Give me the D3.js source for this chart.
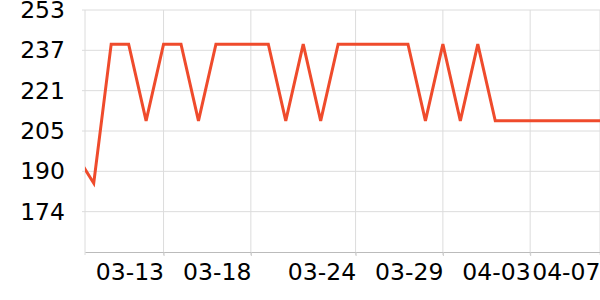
<!DOCTYPE html>
<html lang="en">

<head>
    <meta charset="UTF-8">
    <title>line</title>
    <script src="https://cdn.jsdelivr.net/npm/d3@7/dist/d3.min.js"></script>
    <style>
        body { margin: 0; background: #fff; }
        text { font-family: "DejaVu Sans", sans-serif; }
    </style>
</head>

<body>
    <svg width="600" height="300" id="mainsvg"></svg>
    <script>
        // daily values (first one sits just left of the visible range)
        const dates = ["03-08", "03-09", "03-10", "03-11", "03-12", "03-13", "03-14", "03-15", "03-16", "03-17",
            "03-18", "03-19", "03-20", "03-21", "03-22", "03-23", "03-24", "03-25", "03-26", "03-27",
            "03-28", "03-29", "03-30", "03-31", "04-01", "04-02", "04-03", "04-04", "04-05", "04-06", "04-07"];
        const values = [196, 185, 239.6, 239.6, 209.5, 239.6, 239.6, 209.5, 239.6, 239.6,
            239.6, 239.6, 209.5, 239.6, 209.5, 239.6, 239.6, 239.6, 239.6, 239.6,
            209.5, 239.6, 209.5, 239.6, 209.5, 209.5, 209.5, 209.5, 209.5, 209.5, 209.5];
        const xTickLabels = ["03-13", "03-18", "03-24", "03-29", "04-03", "04-07"];
        const yTickLabels = ["174", "190", "205", "221", "237", "253"];
        const yMin = 158, yMax = 253;

        const svg = d3.select('#mainsvg');
        const width = +svg.attr('width');
        const height = +svg.attr('height');
        const margin = { top: 10, right: 0, bottom: 48, left: 85 };
        const innerWidth = width - margin.left - margin.right;
        const innerHeight = height - margin.top - margin.bottom;
        const g = svg.append('g').attr('transform', `translate(${margin.left}, ${margin.top})`);

        const parse = s => new Date(2024, +s.slice(0, 2) - 1, +s.slice(3));
        const data = dates.map((d, i) => ({ date: parse(d), value: values[i] }));

        const start = d3.timeHour.offset(parse("03-08"), 12);
        const xScale = d3.scaleTime()
            .domain([start, parse("04-07")])
            .range([0, innerWidth]);
        const yScale = d3.scaleLinear()
            .domain([yMin, yMax])
            .range([innerHeight, 0]);

        const yTicks = yTickLabels.map((_, i) => yMin + (i + 1) * (yMax - yMin) / yTickLabels.length);
        const xTicks = xTickLabels.map(parse);

        // grid
        g.append('g').selectAll('line').data(yTicks).join('line')
            .attr('x1', -3).attr('x2', innerWidth)
            .attr('y1', d => yScale(d)).attr('y2', d => yScale(d))
            .attr('stroke', '#dcdcdc');
        g.append('g').selectAll('line').data(xTicks).join('line')
            .attr('x1', d => xScale(d)).attr('x2', d => xScale(d))
            .attr('y1', 0).attr('y2', innerHeight + 3)
            .attr('stroke', '#dcdcdc');
        g.append('line').attr('x1', 0).attr('x2', 0).attr('y1', 0).attr('y2', innerHeight + 3)
            .attr('stroke', '#dcdcdc');

        // axes
        const yAxis = d3.axisLeft(yScale).tickValues(yTicks)
            .tickFormat((d, i) => yTickLabels[i]).tickSize(0).tickPadding(20);
        g.append('g').attr('id', 'yaxis').call(yAxis)
            .call(a => a.select('.domain').remove());
        const xAxis = d3.axisBottom(xScale).tickValues(xTicks)
            .tickFormat((d, i) => xTickLabels[i]).tickSize(4).tickSizeOuter(0);
        g.append('g').attr('id', 'xaxis').attr('transform', `translate(0, ${innerHeight})`).call(xAxis)
            .call(a => a.select('.domain').attr('stroke', '#bbbbbb'))
            .call(a => a.selectAll('.tick line').attr('stroke', '#cccccc'));
        d3.selectAll('.tick text').attr('font-size', '23.5px').attr('fill', '#000')
            .attr('font-family', '"DejaVu Sans", sans-serif');
        d3.selectAll('#xaxis .tick text').attr('text-anchor', 'end').attr('y', 11);

        // line
        g.append('clipPath').attr('id', 'clip').append('rect')
            .attr('x', 0).attr('y', -5).attr('width', innerWidth).attr('height', innerHeight + 10);
        const line = d3.line().x(d => xScale(d.date)).y(d => yScale(d.value));
        g.append('path').datum(data)
            .attr('clip-path', 'url(#clip)')
            .attr('fill', 'none')
            .attr('stroke', '#ef4b2c')
            .attr('stroke-width', 3)
            .attr('d', line);
    </script>
</body>

</html>
